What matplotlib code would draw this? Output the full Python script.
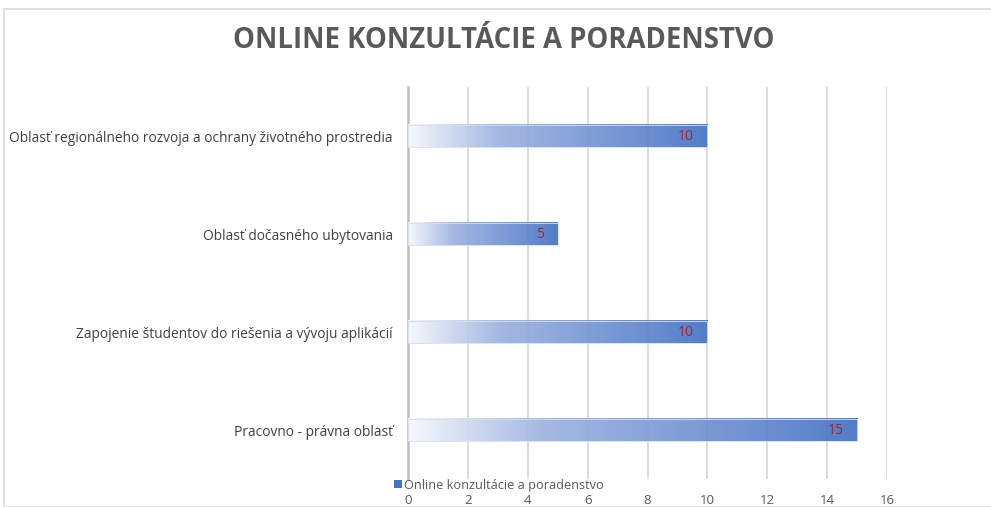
import numpy as np
import matplotlib.pyplot as plt
from matplotlib.colors import LinearSegmentedColormap
from matplotlib.patches import Rectangle

plt.rcParams['font.family'] = ['Open Sans', 'DejaVu Sans']

# data
categories = ["Pracovno - právna oblasť",
              "Zapojenie študentov do riešenia a vývoju aplikácií",
              "Oblasť dočasného ubytovania",
              "Oblasť regionálneho rozvoja a ochrany životného prostredia"]
values = [15, 10, 5, 10]
series_name = "Online konzultácie a poradenstvo"
title = "ONLINE KONZULTÁCIE A PORADENSTVO"
xticks = [0, 2, 4, 6, 8, 10, 12, 14, 16]

blue = "#4472C4"
cmap = LinearSegmentedColormap.from_list(
    "grad", [(0, "#f6f8fd"), (0.3, "#9cb3e0"), (1, blue)])

fig = plt.figure(figsize=(9.91, 5.07), dpi=100)
ax = fig.add_axes([408/991, 1 - 479/507, (887 - 408)/991, (479 - 87)/507])

# outer chart border
fig.patches.append(Rectangle((4/991, 0), 1.2, 1 - 9/507, transform=fig.transFigure,
                             fill=False, edgecolor="#D9D9D9", linewidth=1.2))

h = 0.23
grad = np.linspace(0, 1, 256).reshape(1, -1)
for i, v in enumerate(values):
    ax.imshow(grad, extent=[0, v, i - h/2, i + h/2], aspect="auto", cmap=cmap,
              zorder=3, interpolation="bilinear", alpha=0.92)
    ax.add_patch(Rectangle((0, i - h/2), v, h, fill=False, edgecolor="#d3def2",
                           linewidth=0.6, zorder=4))
    ax.text(v - 0.45, i, str(v), ha="right", va="center", color="#A5233A",
            fontsize=10, zorder=5)

ax.set_xlim(0, 16)
ax.set_ylim(-0.5, len(values) - 0.5)
ax.set_xticks(xticks)
ax.set_yticks(range(len(categories)))
ax.set_yticklabels(categories)
ax.grid(axis="x", color="#D9D9D9", linewidth=1.3, zorder=0)
ax.set_axisbelow(True)
for s in ["top", "right", "bottom"]:
    ax.spines[s].set_visible(False)
ax.spines["left"].set_color("#BFBFBF")
ax.spines["left"].set_linewidth(1.8)
ax.tick_params(axis="x", length=0, pad=11, labelsize=9.5, labelcolor="#595959")
ax.tick_params(axis="y", length=0, pad=11, labelsize=9.9, labelcolor="#404040")

fig.text(504/991, 1 - 40/507, title, ha="center", va="center", fontsize=19.8,
         fontweight="bold", color="#595959")

handle = Rectangle((0, 0), 1, 1, facecolor=blue)
fig.legend([handle], [series_name], loc="center left",
           bbox_to_anchor=(394/991, 1 - 485/507), frameon=False, fontsize=9.2,
           labelcolor="#595959", handlelength=0.6, handleheight=0.6,
           handletextpad=0.2, borderpad=0, borderaxespad=0)

fig.savefig("out.png", dpi=100)
